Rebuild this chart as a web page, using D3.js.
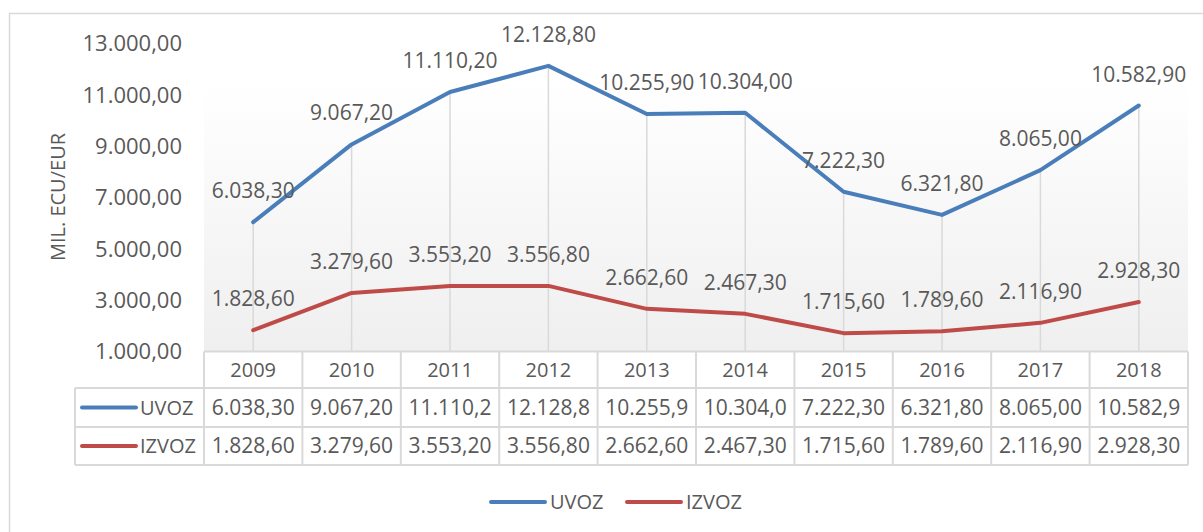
<!DOCTYPE html>
<html>
<head>
<meta charset="utf-8">
<script src="https://cdn.jsdelivr.net/npm/d3@7"></script>
<style>
  body { margin: 0; background: #fff; }
  text { font-family: "Open Sans", sans-serif; fill: #595959; }
</style>
</head>
<body>
<svg id="chart" width="1203" height="532" viewBox="0 0 1203 532"></svg>
<script>
// data
const years = [2009, 2010, 2011, 2012, 2013, 2014, 2015, 2016, 2017, 2018]
const uvoz = [6038.3, 9067.2, 11110.2, 12128.8, 10255.9, 10304.0, 7222.3, 6321.8, 8065.0, 10582.9]
const izvoz = [1828.6, 3279.6, 3553.2, 3556.8, 2662.6, 2467.3, 1715.6, 1789.6, 2116.9, 2928.3]
const yTicks = [1000, 3000, 5000, 7000, 9000, 11000, 13000]
const seriesNames = ["UVOZ", "IZVOZ"]
const seriesColors = ["#4a7ebb", "#be4b48"]

const svg = d3.select("#chart")

const locale = d3.formatLocale({decimal: ",", thousands: ".", grouping: [3], currency: ["", ""]})
const fmt = locale.format(",.2f")

const left = 204, right = 1188
const x = d3.scaleBand().domain(years).range([left, right])
const y = d3.scaleLinear().domain([1000, 13000]).range([351.5, 43.5])

// outer frame (only top and left edges fall inside the picture)
svg.append("rect")
    .attr("x", 9.5).attr("y", 13.5)
    .attr("width", 1250).attr("height", 600)
    .attr("fill", "none")
    .attr("stroke", "#d9d9d9")
    .attr("stroke-width", 1.5)

// plot area gradient
const grad = svg.append("defs").append("linearGradient")
    .attr("id", "bg").attr("x1", 0).attr("y1", 0).attr("x2", 0).attr("y2", 1)
grad.append("stop").attr("offset", "0%").attr("stop-color", "#ffffff")
grad.append("stop").attr("offset", "100%").attr("stop-color", "#efefef")
svg.append("rect")
    .attr("x", left).attr("y", 82)
    .attr("width", right - left).attr("height", 351 - 82)
    .attr("fill", "url(#bg)")

// y axis labels
svg.append("g").selectAll("text")
    .data(yTicks)
    .enter()
    .append("text")
    .attr("x", 182)
    .attr("y", d => y(d))
    .attr("dy", "0.35em")
    .attr("text-anchor", "end")
    .style("font-size", "22px")
    .text(d => fmt(d))

svg.append("text")
    .attr("transform", "translate(65,197) rotate(-90)")
    .attr("text-anchor", "middle")
    .style("font-size", "20px")
    .text("MIL. ECU/EUR")

// drop lines from the top series to the axis
svg.append("g").selectAll("line")
    .data(years)
    .enter()
    .append("line")
    .attr("x1", d => x(d) + x.bandwidth() / 2)
    .attr("x2", d => x(d) + x.bandwidth() / 2)
    .attr("y1", (d, i) => y(Math.max(uvoz[i], izvoz[i])))
    .attr("y2", 351)
    .attr("stroke", "#d9d9d9")
    .attr("stroke-width", 1.5)

const allSeries = [uvoz, izvoz]
const line = d3.line()
    .x((d, i) => x(years[i]) + x.bandwidth() / 2)
    .y(d => y(d))

allSeries.forEach((vals, s) => {
    svg.append("path")
        .datum(vals)
        .attr("d", line)
        .attr("fill", "none")
        .attr("stroke", seriesColors[s])
        .attr("stroke-width", 4)
        .attr("stroke-linejoin", "round")
        .attr("stroke-linecap", "round")

    svg.append("g").selectAll("text")
        .data(vals)
        .enter()
        .append("text")
        .attr("x", (d, i) => x(years[i]) + x.bandwidth() / 2)
        .attr("y", d => y(d) - 24)
        .attr("text-anchor", "middle")
        .style("font-size", "21px")
        .text(d => fmt(d))
})

// data table
const rowTop = [351.5, 388, 427]
const rowBottom = 465
const tableLeft = 75
const border = "#d9d9d9"
const tbl = svg.append("g")

// horizontal rules
tbl.append("line").attr("x1", left).attr("x2", right).attr("y1", rowTop[0]).attr("y2", rowTop[0])
tbl.append("line").attr("x1", tableLeft).attr("x2", right).attr("y1", rowTop[1]).attr("y2", rowTop[1])
tbl.append("line").attr("x1", tableLeft).attr("x2", right).attr("y1", rowTop[2]).attr("y2", rowTop[2])
tbl.append("line").attr("x1", tableLeft).attr("x2", right).attr("y1", rowBottom).attr("y2", rowBottom)
// vertical rules
tbl.append("line").attr("x1", tableLeft).attr("x2", tableLeft).attr("y1", rowTop[1]).attr("y2", rowBottom)
tbl.selectAll(".vr")
    .data(years.concat(["end"]))
    .enter()
    .append("line")
    .attr("x1", d => d === "end" ? right : x(d))
    .attr("x2", d => d === "end" ? right : x(d))
    .attr("y1", rowTop[0])
    .attr("y2", rowBottom)
tbl.selectAll("line").attr("stroke", border).attr("stroke-width", 2)

// header years
tbl.append("g").selectAll("text")
    .data(years)
    .enter()
    .append("text")
    .attr("x", d => x(d) + x.bandwidth() / 2)
    .attr("y", (rowTop[0] + rowTop[1]) / 2)
    .attr("dy", "0.35em")
    .attr("text-anchor", "middle")
    .style("font-size", "20px")
    .text(d => d)

allSeries.forEach((vals, s) => {
    const yTop = rowTop[s + 1]
    const yBot = s === 0 ? rowTop[2] : rowBottom
    const cy = (yTop + yBot) / 2

    tbl.append("line")
        .attr("x1", 82).attr("x2", 136)
        .attr("y1", cy).attr("y2", cy)
        .attr("stroke", seriesColors[s])
        .attr("stroke-width", 4)
        .attr("stroke-linecap", "round")
    tbl.append("text")
        .attr("x", 140)
        .attr("y", cy)
        .attr("dy", "0.35em")
        .style("font-size", "20px")
        .text(seriesNames[s])

    tbl.append("g").selectAll("text")
        .data(vals)
        .enter()
        .append("text")
        .attr("x", (d, i) => x(years[i]) + x.bandwidth() / 2)
        .attr("y", cy)
        .attr("dy", "0.35em")
        .attr("text-anchor", "middle")
        .style("font-size", "21px")
        .text(d => fmt(d))
        .each(function () {
            // cut the text like the spreadsheet does when it is too wide for the cell
            let t = this.textContent
            while (this.getComputedTextLength() > x.bandwidth() - 6 && t.length > 1) {
                t = t.slice(0, -1)
                this.textContent = t
            }
        })
})

// legend at the bottom
const legend = svg.append("g")
const legendX = [491, 627]
seriesNames.forEach((name, s) => {
    legend.append("line")
        .attr("x1", legendX[s]).attr("x2", legendX[s] + 54)
        .attr("y1", 502).attr("y2", 502)
        .attr("stroke", seriesColors[s])
        .attr("stroke-width", 4)
        .attr("stroke-linecap", "round")
    legend.append("text")
        .attr("x", legendX[s] + 59)
        .attr("y", 502)
        .attr("dy", "0.35em")
        .style("font-size", "20px")
        .text(name)
})
</script>
</body>
</html>
